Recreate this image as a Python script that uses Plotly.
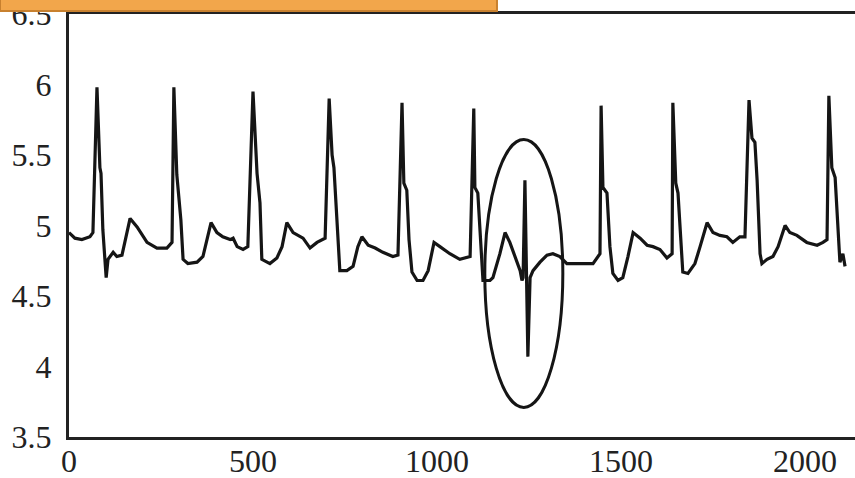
import plotly.graph_objects as go

# ECG-like signal (time index, amplitude)
t_beat1 = [0, 16, 35, 57, 65, 76, 84, 87, 92, 101, 106, 120, 130, 144, 166, 185, 212, 239, 266, 280]
v_beat1 = [4.95, 4.91, 4.90, 4.92, 4.95, 5.98, 5.41, 5.37, 4.97, 4.63, 4.76, 4.81, 4.78, 4.79, 5.05, 4.99, 4.88, 4.84, 4.84, 4.88]

t_beat2 = [285, 293, 304, 310, 323, 348, 364, 386, 402, 418, 438, 446, 457, 473, 486]
v_beat2 = [5.98, 5.36, 5.04, 4.76, 4.73, 4.74, 4.78, 5.02, 4.95, 4.92, 4.90, 4.91, 4.85, 4.83, 4.85]

t_beat3 = [500, 511, 519, 524, 546, 565, 579, 592, 609, 636, 655, 674, 696]
v_beat3 = [5.95, 5.37, 5.16, 4.76, 4.73, 4.77, 4.85, 5.02, 4.95, 4.91, 4.84, 4.88, 4.91]

t_beat4 = [707, 715, 720, 728, 736, 755, 772, 785, 796, 813, 832, 853, 880, 894]
v_beat4 = [5.90, 5.50, 5.41, 5.04, 4.68, 4.68, 4.71, 4.85, 4.92, 4.86, 4.84, 4.81, 4.78, 4.79]

t_beat5 = [905, 910, 918, 924, 932, 946, 962, 976, 992, 1008, 1035, 1062, 1090]
v_beat5 = [5.87, 5.30, 5.25, 4.90, 4.67, 4.61, 4.61, 4.68, 4.88, 4.85, 4.80, 4.76, 4.78]

t_beat6 = [1100, 1103, 1111, 1122, 1125, 1144, 1152, 1171, 1185, 1198, 1212, 1226, 1231, 1234,
           1239, 1247, 1253, 1261, 1280, 1299, 1315, 1334, 1353, 1389, 1424]
v_beat6 = [5.83, 5.27, 5.23, 4.80, 4.61, 4.61, 4.63, 4.80, 4.95, 4.88, 4.78, 4.68, 4.61, 4.63,
           5.32, 4.07, 4.63, 4.68, 4.74, 4.79, 4.80, 4.78, 4.73, 4.73, 4.73]

t_beat7 = [1443, 1446, 1451, 1462, 1470, 1478, 1492, 1505, 1519, 1533, 1552, 1571, 1587, 1606, 1625, 1639]
v_beat7 = [4.80, 5.85, 5.27, 5.23, 4.85, 4.66, 4.61, 4.63, 4.78, 4.95, 4.91, 4.86, 4.85, 4.83, 4.77, 4.80]

t_beat8 = [1641, 1649, 1655, 1666, 1668, 1682, 1701, 1715, 1734, 1750, 1769, 1788, 1804, 1823, 1837]
v_beat8 = [5.87, 5.30, 5.23, 4.80, 4.67, 4.66, 4.73, 4.85, 5.02, 4.95, 4.93, 4.92, 4.88, 4.92, 4.92]

t_beat9 = [1848, 1856, 1864, 1870, 1878, 1883, 1897, 1913, 1927, 1946, 1959, 1978, 2005, 2033, 2049, 2060]
v_beat9 = [5.89, 5.62, 5.59, 5.32, 4.80, 4.73, 4.76, 4.78, 4.85, 5.00, 4.95, 4.93, 4.88, 4.86, 4.88, 4.90]

t_beat10 = [2065, 2073, 2082, 2090, 2095, 2103, 2109]
v_beat10 = [5.92, 5.41, 5.34, 4.92, 4.74, 4.80, 4.71]

x_ticks = [0, 500, 1000, 1500, 2000]
y_ticks = [3.5, 4, 4.5, 5, 5.5, 6, 6.5]
y_tick_text = ["3.5", "4", "4.5", "5", "5.5", "6", "6.5"]

# highlighted anomaly ellipse bounds (data units)
ellipse_t = [1130, 1342]
ellipse_v = [3.71, 5.61]

t_all = (t_beat1 + t_beat2 + t_beat3 + t_beat4 + t_beat5 + t_beat6
         + t_beat7 + t_beat8 + t_beat9 + t_beat10)
v_all = (v_beat1 + v_beat2 + v_beat3 + v_beat4 + v_beat5 + v_beat6
         + v_beat7 + v_beat8 + v_beat9 + v_beat10)

fig = go.Figure()
fig.add_trace(go.Scatter(x=t_all, y=v_all, mode="lines",
                         line=dict(color="#151515", width=3.2), showlegend=False,
                         hoverinfo="skip"))

fig.add_shape(type="circle", xref="x", yref="y",
              x0=ellipse_t[0], x1=ellipse_t[1], y0=ellipse_v[0], y1=ellipse_v[1],
              line=dict(color="#151515", width=3))

# orange header strip at the top-left edge of the image
fig.add_shape(type="rect", xref="paper", yref="paper",
              x0=-0.0878, x1=0.5445, y0=1.0071, y1=1.04,
              fillcolor="#F2A64B", line=dict(color="#C8812F", width=2), layer="above")

font = dict(family="Liberation Serif", size=32, color="#222222")

fig.update_layout(
    width=855, height=478,
    margin=dict(l=69, r=0, t=14, b=41, autoexpand=False),
    paper_bgcolor="white", plot_bgcolor="white",
    showlegend=False,
)
fig.update_xaxes(range=[0, 2136], tickvals=x_ticks, showgrid=False, zeroline=False,
                 showline=True, linewidth=3, linecolor="#222222", mirror=True,
                 ticks="", tickfont=font, automargin=False,
                 ticklabelstandoff=-6, ticklabeloverflow="allow")
fig.update_yaxes(range=[3.5, 6.5], tickvals=y_ticks, ticktext=y_tick_text,
                 showgrid=False, zeroline=False, showline=True, linewidth=3,
                 linecolor="#222222", mirror=False, ticks="", tickfont=font,
                 ticklabelstandoff=8, automargin=False, ticklabeloverflow="allow")

fig.write_html("out.html", config={"displayModeBar": False, "staticPlot": True},
               post_script="document.body.style.margin='0';document.body.style.overflow='hidden';")
